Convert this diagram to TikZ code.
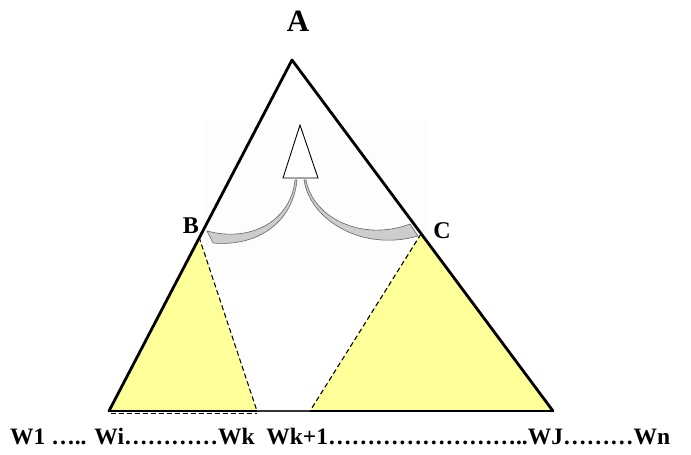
\documentclass[tikz,border=0pt]{standalone}
\usepackage{fontspec}
\setmainfont{Liberation Serif}
\definecolor{lightyel}{RGB}{255,255,153}
\definecolor{bandgray}{RGB}{205,205,205}
\definecolor{bandedge}{RGB}{100,100,100}
\begin{document}
\begin{tikzpicture}[x=1pt,y=-1pt,
  lbl/.style={font=\bfseries},
  edge/.style={line width=2.8pt,line join=round,line cap=round},
  cut/.style={dashed,line width=1.1pt,dash pattern=on 5pt off 3pt},
  band/.style={fill=bandgray,draw=bandedge,line width=0.6pt}]
\useasboundingbox (0,0) rectangle (691,455);
% corners
\coordinate (A) at (292,60);
\coordinate (L) at (109,411);
\coordinate (R) at (553,411);
\coordinate (B) at (199,237);
\coordinate (C) at (421,234);
\coordinate (K) at (257,411);
\coordinate (K1) at (310,411);
% faint picture background
\fill[gray!1.5] (205,121) rectangle (427,273);
% yellow regions
\fill[lightyel] (B) -- (L) -- (K) -- cycle;
\fill[lightyel] (C) -- (K1) -- (R) -- cycle;
\draw[cut] (B) -- (K);
\draw[cut] (C) -- (K1);
% labels
\node[lbl,font=\bfseries\fontsize{31}{34}\selectfont] (la) at (298,21) {A};
\node[lbl,font=\bfseries\fontsize{24}{28}\selectfont] (lb) at (191,226) {B};
\node[lbl,font=\bfseries\fontsize{24}{28}\selectfont] (lc) at (442,231) {C};
% bands
\path[band] (297,180) .. controls (293,222) and (258,247) .. (213,243) -- (207,231) .. controls (252,243) and (291,220) .. (295,180) -- cycle;
\path[band] (304,180) .. controls (310,220) and (362,252) .. (418,236) -- (410,224) .. controls (362,242) and (313,218) .. (306,180) -- cycle;
% arrow head
\draw[fill=white,line width=0.9pt,line join=miter] (300,125) -- (283,178) -- (318,178) -- cycle;
% triangle
\draw[edge] (L) -- (A) -- (R);
\draw[line width=2.8pt] (L) -- (K);
\draw[line width=1.4pt,black!80] (K) -- (K1);
\draw[line width=2.8pt] (K1) -- (R);
\draw[cut,line width=1.2pt] (111,413.5) -- (257,413.5);
% bottom text
\node[lbl,anchor=west,font=\bfseries\fontsize{23.5}{28}\selectfont,inner sep=0pt] (wl) at (10,437)
 {W1 \ldots.. Wi\ldots\ldots\ldots\ldots Wk\ \ Wk+1\ldots\ldots\ldots\ldots\ldots\ldots\ldots\ldots..WJ\ldots\ldots\ldots Wn};
\end{tikzpicture}
\end{document}
